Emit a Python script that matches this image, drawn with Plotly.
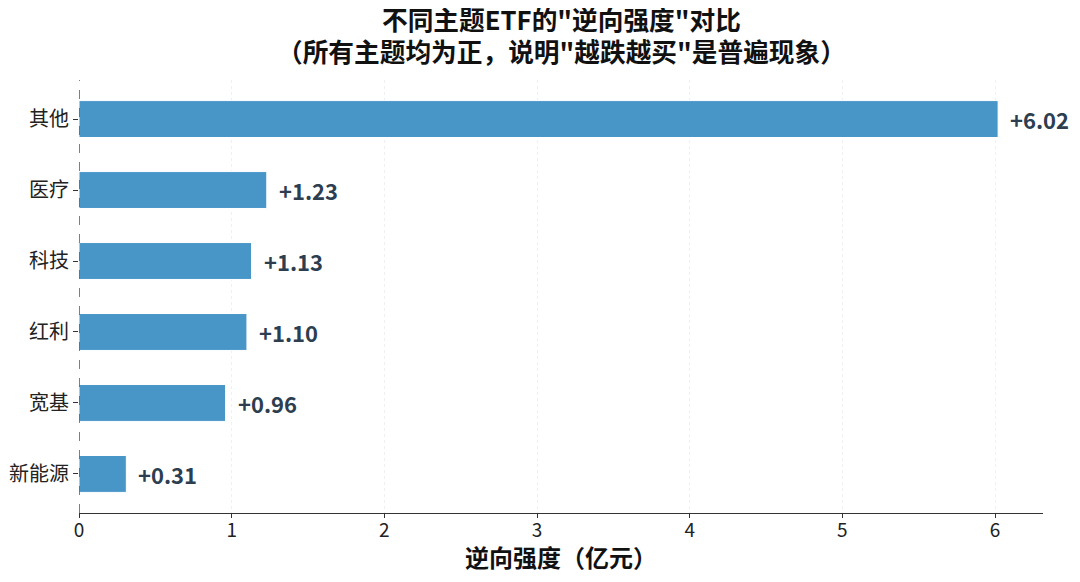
import plotly.graph_objects as go

categories = ["新能源", "宽基", "红利", "科技", "医疗", "其他"]
values = [0.31, 0.96, 1.10, 1.13, 1.23, 6.02]
x_ticks = [0, 1, 2, 3, 4, 5, 6]

font_family = "Noto Sans CJK SC"
bar_color = "#4896c8"
label_color = "#2c3e50"

fig = go.Figure()
fig.add_trace(go.Bar(
    x=values,
    y=categories,
    orientation="h",
    marker=dict(color=bar_color, line=dict(color="white", width=1)),
    width=0.52,
    hoverinfo="skip",
))

for c, v in zip(categories, values):
    fig.add_annotation(
        x=v, y=c, text=f"<b>+{v:.2f}</b>",
        xanchor="left", yanchor="middle", xshift=10, showarrow=False,
        font=dict(family=font_family, size=22, color=label_color),
    )

# title as two centred lines over the plot area
fig.add_annotation(x=0.5, y=1.143, xref="paper", yref="paper", showarrow=False,
                   xanchor="center", yanchor="middle",
                   text="<b>不同主题ETF的\"逆向强度\"对比</b>",
                   font=dict(family=font_family, size=25.7, color="#111111"))
fig.add_annotation(x=0.5, y=1.069, xref="paper", yref="paper", showarrow=False,
                   xanchor="center", yanchor="middle",
                   text="<b>（所有主题均为正，说明\"越跌越买\"是普遍现象）</b>",
                   font=dict(family=font_family, size=25.7, color="#111111"))
fig.add_annotation(x=0.5, y=-0.1016, xref="paper", yref="paper", showarrow=False,
                   xanchor="center", yanchor="middle",
                   text="<b>逆向强度（亿元）</b>",
                   font=dict(family=font_family, size=24, color="#111111"))

# dashed zero line on the left
fig.add_shape(type="line", x0=0, x1=0, y0=0, y1=1, yref="paper",
              line=dict(color="#555555", width=1.5, dash="dash"))

# page adds an 8px body margin, so the figure is 8px smaller and shifted
fig.update_layout(
    width=1072, height=574,
    margin=dict(l=71, r=37, t=72, b=69),
    paper_bgcolor="white", plot_bgcolor="white",
    font=dict(family=font_family, size=16, color="#222222"),
    showlegend=False,
    xaxis=dict(
        range=[0, 6.314], tickvals=x_ticks, automargin=False,
        showgrid=True, gridcolor="#f0f0f0", griddash="dot", gridwidth=1,
        showline=True, linecolor="#333333", linewidth=1.2,
        ticks="outside", ticklen=4, tickcolor="#333333",
        tickfont=dict(size=19, color="#222222"), ticklabelstandoff=-4,
        zeroline=False,
    ),
    yaxis=dict(
        range=[-0.55, 5.55], type="category", automargin=False,
        showgrid=False, showline=False, zeroline=False,
        ticks="outside", ticklen=5, tickcolor="#333333",
        tickfont=dict(size=20, color="#222222"),
    ),
)

fig.write_html("out.html")
